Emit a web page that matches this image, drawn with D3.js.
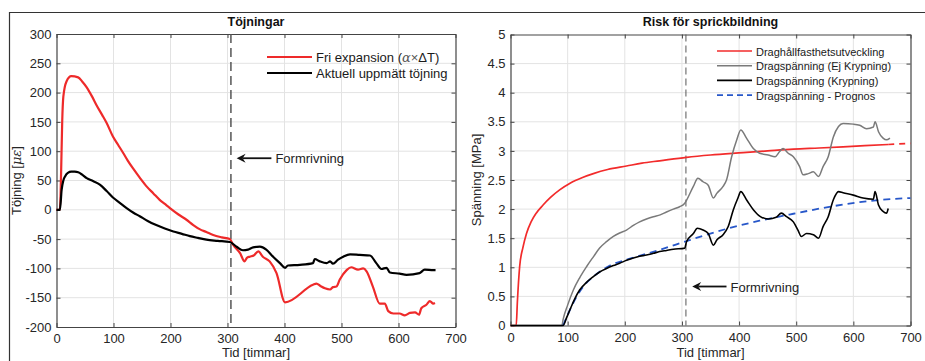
<!DOCTYPE html>
<html>
<head>
<meta charset="utf-8">
<script src="https://cdn.jsdelivr.net/npm/d3@7"></script>
<style>
  body { margin: 0; background: #fff; }
  svg { font-family: "Liberation Sans", Arial, Helvetica, sans-serif; }
</style>
</head>
<body>
<svg id="chart" width="925" height="361"></svg>
<script>
// Left panel: strains [microstrain] over time [h]
var friExpansion = [[0,0],[6,0],[8,60],[10,150],[12,193],[17.5,219],[26,228],[38,226],[45,219],[53,209],[62,194],[70,179],
  [80,162],[88,148],[99,125],[108,111],[117,97],[125,84],[134,71],[146,55],[158,40],[170,28],[181,17],[190,10],[199,3],
  [214,-8],[228,-17],[240,-26],[251,-33],[263,-38],[275,-43],[290,-47],[304,-50],[310,-60],[322,-74],[330,-88],
  [334,-82],[339,-80],[346,-78],[354,-71],[362,-80],[374,-88],[386,-108],[401,-158],[450,-128],[456,-126],[463,-130],
  [471,-134],[480,-136],[485,-132],[491,-131],[497,-119],[509,-103],[517,-98],[529,-102],[538,-100],[544,-105],
  [555,-131],[567,-160],[576,-160],[582,-173],[591,-177],[602,-177],[611,-180],[620,-176],[629,-175],[636,-179],
  [640,-168],[649,-162],[655,-156],[661,-160],[664,-159]];
var aktuellTojning = [[0,0],[6,0],[9,34],[12,50],[15,57],[20,63],[26,65],[32,65],[38,64],[45,60],[53,54],[64,49],[76,43],
  [88,32],[99,21],[111,12],[123,3],[135,-5],[146,-11],[160,-19],[175,-26],[190,-32],[205,-37],[220,-41],[234,-45],
  [248,-48],[263,-51],[283,-53],[304,-55],[316,-63],[327,-69],[336,-68],[345,-64],[357,-63],[368,-68],[380,-80],
  [392,-91],[401,-99],[406,-95],[427,-94],[450,-91],[453,-84],[462,-88],[474,-91],[480,-88],[485,-92],[494,-85],
  [503,-80],[515,-76],[532,-77],[550,-78],[561,-91],[570,-101],[579,-99],[585,-107],[602,-109],[614,-111],
  [637,-108],[646,-102],[661,-103],[665,-103]];

// Right panel: stresses [MPa] over time [h]
var draghallfasthet = [[0,0],[10,0],[12,0.4],[16,1.01],[22,1.35],[28,1.58],[36,1.78],[45,1.93],[57,2.07],[70,2.2],
  [86,2.33],[105,2.45],[125,2.54],[145,2.61],[170,2.68],[203,2.74],[230,2.79],[261,2.83],[308,2.89],
  [350,2.93],[407,2.97],[450,3.0],[495,3.03],[540,3.05],[582,3.07],[620,3.09],[661,3.11]];
var draghallfasthetPrognos = [[661,3.11],[700,3.13]];
var ejKrypning = [[0,0],[90,0],[92,0.1],[100,0.35],[110,0.61],[121,0.82],[133,1.01],[145,1.18],[156,1.33],[168,1.44],
  [180,1.53],[191,1.59],[203,1.64],[215,1.72],[226,1.78],[238,1.83],[250,1.87],[262,1.9],[273,1.95],[285,2.0],
  [296,2.04],[305,2.1],[308,2.15],[320,2.39],[328,2.53],[337,2.47],[346,2.41],[355,2.19],[361,2.27],
  [372,2.39],[378,2.5],[387,2.9],[396,3.19],[403,3.36],[413,3.22],[425,3.04],[436,2.96],[451,2.93],[463,2.9],
  [471,2.99],[477,3.04],[486,2.96],[495,2.9],[506,2.73],[512,2.59],[521,2.61],[530,2.64],[539,2.56],[547,2.73],
  [556,2.9],[565,3.24],[574,3.42],[582,3.47],[600,3.46],[611,3.44],[623,3.38],[635,3.41],[638,3.5],[644,3.33],
  [652,3.22],[658,3.19],[664,3.22]];
var krypning = [[0,0],[92,0],[98,0.13],[104,0.27],[112,0.45],[121,0.61],[133,0.74],[145,0.84],[156,0.92],[168,0.98],
  [180,1.03],[191,1.07],[203,1.12],[215,1.16],[226,1.19],[238,1.21],[250,1.24],[261,1.27],[273,1.29],
  [285,1.31],[305,1.33],[308,1.44],[320,1.58],[327,1.67],[337,1.64],[346,1.58],[355,1.38],[361,1.47],[372,1.56],
  [381,1.7],[390,1.99],[398,2.19],[403,2.3],[413,2.16],[425,1.99],[436,1.88],[451,1.83],[465,1.86],[474,1.93],
  [483,1.87],[495,1.78],[503,1.64],[509,1.53],[518,1.58],[530,1.56],[539,1.5],[547,1.7],[556,1.87],[565,2.16],
  [574,2.3],[582,2.28],[600,2.24],[617,2.19],[635,2.17],[638,2.3],[644,2.07],[652,1.96],[658,1.93],[661,2.01]];
var prognos = [[92,0],[104,0.27],[116,0.5],[130,0.7],[145,0.84],[160,0.95],[174,1.03],[203,1.13],[230,1.21],[261,1.3],
  [308,1.45],[340,1.55],[378,1.66],[436,1.8],[495,1.92],[553,2.03],[611,2.12],[650,2.16],[700,2.19]];

var xTicks = [0, 100, 200, 300, 400, 500, 600, 700];
var strainTicks = [-200, -150, -100, -50, 0, 50, 100, 150, 200, 250, 300];
var stressTicks = [0, 0.5, 1, 1.5, 2, 2.5, 3, 3.5, 4, 4.5, 5];
var formrivningTid = [306, 307];

var svg = d3.select("#chart");

// outer frame
svg.append("path").attr("d", "M9.5,361V12.5H925").attr("fill", "none")
  .attr("stroke", "#333").attr("stroke-width", 1.2);

function drawPanel(opt) {
  var x = d3.scaleLinear().domain([0, 700]).range([opt.left, opt.right]);
  var y = d3.scaleLinear().domain(opt.yDomain).range([opt.bottom, opt.top]);
  var g = svg.append("g");

  // grid
  g.selectAll("line.gx").data(xTicks.slice(1, -1)).enter().append("line")
    .attr("x1", function(d) { return x(d); }).attr("x2", function(d) { return x(d); })
    .attr("y1", opt.top).attr("y2", opt.bottom)
    .attr("stroke", "#e3e3e3").attr("stroke-width", 1);
  g.selectAll("line.gy").data(opt.yTicks.slice(1, -1)).enter().append("line")
    .attr("y1", function(d) { return y(d); }).attr("y2", function(d) { return y(d); })
    .attr("x1", opt.left).attr("x2", opt.right)
    .attr("stroke", "#e3e3e3").attr("stroke-width", 1);

  // axes (MATLAB style, ticks inside, box on)
  var fmt = function(d) { return String(d); };
  var axB = g.append("g").attr("transform", "translate(0," + opt.bottom + ")")
    .call(d3.axisBottom(x).tickValues(xTicks).tickSizeInner(-4).tickSizeOuter(0).tickPadding(7).tickFormat(fmt));
  var axT = g.append("g").attr("transform", "translate(0," + opt.top + ")")
    .call(d3.axisTop(x).tickValues(xTicks).tickSizeInner(-4).tickSizeOuter(0).tickFormat(""));
  var axL = g.append("g").attr("transform", "translate(" + opt.left + ",0)")
    .call(d3.axisLeft(y).tickValues(opt.yTicks).tickSizeInner(-4).tickSizeOuter(0).tickPadding(5).tickFormat(fmt));
  var axR = g.append("g").attr("transform", "translate(" + opt.right + ",0)")
    .call(d3.axisRight(y).tickValues(opt.yTicks).tickSizeInner(-4).tickSizeOuter(0).tickFormat(""));
  [axB, axT, axL, axR].forEach(function(a) {
    a.select(".domain").attr("stroke", "#444").attr("stroke-width", 1.2);
    a.selectAll(".tick line").attr("stroke", "#444");
    a.selectAll(".tick text").attr("fill", "#262626").attr("font-size", 13)
      .attr("font-family", "'Liberation Sans', Arial, sans-serif");
  });

  // dashed vertical "Formrivning"
  g.append("line").attr("x1", x(opt.formTid)).attr("x2", x(opt.formTid))
    .attr("y1", opt.top).attr("y2", opt.bottom)
    .attr("stroke", "#555").attr("stroke-width", opt.formWidth).attr("stroke-dasharray", opt.formDash);

  var line = d3.line().curve(d3.curveMonotoneX)
    .x(function(d) { return x(d[0]); }).y(function(d) { return y(d[1]); });
  opt.series.forEach(function(s) {
    g.append("path").datum(s.data).attr("d", line).attr("fill", "none")
      .attr("stroke", s.color).attr("stroke-width", s.width)
      .attr("stroke-dasharray", s.dash || null).attr("stroke-linejoin", "round");
  });

  // arrow + text
  var ay = y(opt.arrowY);
  var x0 = x(opt.arrowFrom), x1 = x(opt.arrowTo);
  g.append("line").attr("x1", x1).attr("x2", x0 + 6).attr("y1", ay).attr("y2", ay)
    .attr("stroke", "#111").attr("stroke-width", 1.8);
  g.append("path").attr("d", "M" + x0 + "," + ay + "l9,-4.5l-3,4.5l3,4.5z").attr("fill", "#111");
  g.append("text").attr("x", x1 + 4).attr("y", ay + 5).attr("font-size", 13).attr("fill", "#222")
    .text("Formrivning");

  // title and labels
  svg.append("text").attr("x", (opt.left + opt.right) / 2).attr("y", 26)
    .attr("text-anchor", "middle").attr("font-weight", "bold").attr("font-size", 12.5).attr("fill", "#111")
    .text(opt.title);
  svg.append("text").attr("x", (opt.left + opt.right) / 2).attr("y", 357)
    .attr("text-anchor", "middle").attr("font-size", 13).attr("fill", "#262626").text("Tid [timmar]");
  var yl = svg.append("text")
    .attr("transform", "translate(" + opt.yLabelX + "," + (opt.top + opt.bottom) / 2 + ") rotate(-90)")
    .attr("text-anchor", "middle").attr("font-size", 13).attr("fill", "#262626");
  opt.yLabel(yl);

  // legend
  opt.legend.forEach(function(l, i) {
    var ly = opt.legendY + i * opt.legendStep;
    g.append("line").attr("x1", opt.legendX).attr("x2", opt.legendX + opt.legendLen)
      .attr("y1", ly).attr("y2", ly).attr("stroke", l.color).attr("stroke-width", l.width)
      .attr("stroke-dasharray", l.dash || null);
    var t = g.append("text").attr("x", opt.legendX + opt.legendLen + 4).attr("y", ly + 4.5)
      .attr("font-size", opt.legendFont).attr("fill", "#1a1a1a");
    l.label(t);
  });
}

drawPanel({
  left: 56.5, right: 455.5, top: 34, bottom: 327, yDomain: [-200, 300], yTicks: strainTicks,
  title: "Töjningar", yLabelX: 21,
  yLabel: function(t) {
    t.append("tspan").text("Töjning [");
    t.append("tspan").attr("font-family", "'DejaVu Serif', serif").attr("font-style", "italic").text("με");
    t.append("tspan").text("]");
  },
  formTid: formrivningTid[0], formWidth: 1.5, formDash: "9,5",
  arrowY: 88, arrowFrom: 316, arrowTo: 377,
  series: [
    { data: friExpansion, color: "#ee2a2a", width: 2.2 },
    { data: aktuellTojning, color: "#000", width: 2.2 }
  ],
  legendX: 267, legendLen: 45, legendY: 57, legendStep: 16, legendFont: 13,
  legend: [
    { color: "#ee2a2a", width: 2.2, label: function(t) {
      t.append("tspan").text("Fri expansion (");
      t.append("tspan").attr("font-family", "'DejaVu Serif', serif").attr("font-style", "italic").attr("fill", "#555").text("α");
      t.append("tspan").attr("fill", "#555").text("×");
      t.append("tspan").text("ΔT)");
    } },
    { color: "#000", width: 2.2, label: function(t) { t.text("Aktuell uppmätt töjning"); } }
  ]
});

drawPanel({
  left: 510.5, right: 910.5, top: 34.5, bottom: 325.5, yDomain: [0, 5], yTicks: stressTicks,
  title: "Risk för sprickbildning", yLabelX: 481,
  yLabel: function(t) { t.text("Spänning [MPa]"); },
  formTid: formrivningTid[1], formWidth: 1, formDash: "7,4",
  arrowY: 0.67, arrowFrom: 318, arrowTo: 378,
  series: [
    { data: draghallfasthet, color: "#f22b2b", width: 1.7 },
    { data: draghallfasthetPrognos, color: "#f22b2b", width: 1.7, dash: "6,5" },
    { data: ejKrypning, color: "#7a7a7a", width: 1.5 },
    { data: prognos, color: "#2757c9", width: 1.8, dash: "7,5" },
    { data: krypning, color: "#000", width: 1.6 }
  ],
  legendX: 717, legendLen: 35, legendY: 51, legendStep: 14.7, legendFont: 11,
  legend: [
    { color: "#f22b2b", width: 1.7, label: function(t) { t.text("Draghållfasthetsutveckling"); } },
    { color: "#7a7a7a", width: 1.5, label: function(t) { t.text("Dragspänning (Ej Krypning)"); } },
    { color: "#000", width: 1.7, label: function(t) { t.text("Dragspänning (Krypning)"); } },
    { color: "#2757c9", width: 1.8, dash: "6,4", label: function(t) { t.text("Dragspänning - Prognos"); } }
  ]
});
</script>
</body>
</html>
